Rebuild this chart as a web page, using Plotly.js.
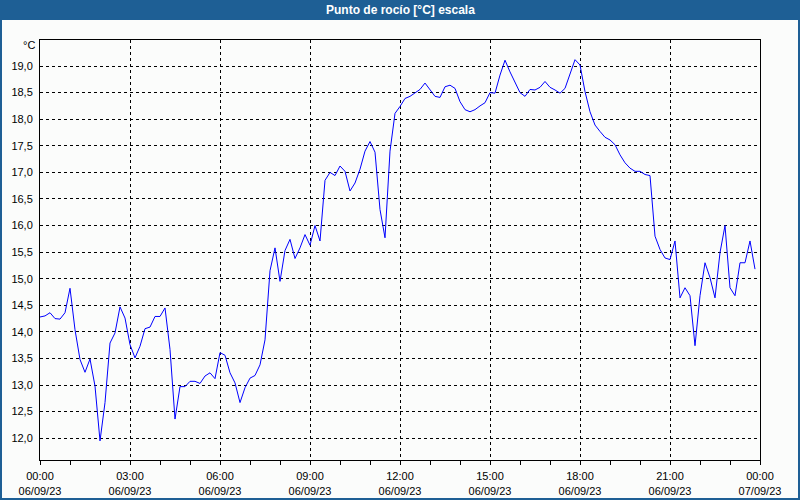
<!DOCTYPE html>
<html>
<head>
<meta charset="utf-8">
<script src="https://cdn.plot.ly/plotly-3.0.1.min.js"></script>
<style>
html,body{margin:0;padding:0;background:#fbfcfb;}
#chart{width:800px;height:500px;}
</style>
</head>
<body>
<div id="chart"></div>
<script>
// Sampling: one reading every 10 minutes starting at midnight
const startTime = '2023-09-06T00:00:00';
const stepMinutes = 10;

// Dew point readings (°C), one row per hour (6 readings each)
const dewPoint = [
  14.28, 14.30, 14.36, 14.25, 14.24, 14.36,   // 00h
  14.82, 14.04, 13.48, 13.24, 13.49, 12.98,   // 01h
  11.95, 12.67, 13.79, 13.98, 14.47, 14.26,   // 02h
  13.76, 13.51, 13.73, 14.06, 14.09, 14.29,   // 03h
  14.29, 14.45, 13.67, 12.36, 12.97, 12.97,   // 04h
  13.07, 13.07, 13.03, 13.17, 13.23, 13.12,   // 05h
  13.61, 13.56, 13.23, 13.04, 12.67, 12.95,   // 06h
  13.13, 13.18, 13.38, 13.85, 15.15, 15.58,   // 07h
  14.95, 15.53, 15.74, 15.38, 15.58, 15.83,   // 08h
  15.63, 16.00, 15.71, 16.85, 17.00, 16.94,   // 09h
  17.12, 17.02, 16.65, 16.80, 17.06, 17.40,   // 10h
  17.58, 17.38, 16.30, 15.77, 17.40, 18.11,   // 11h
  18.24, 18.39, 18.43, 18.50, 18.56, 18.68,   // 12h
  18.56, 18.43, 18.41, 18.61, 18.64, 18.58,   // 13h
  18.33, 18.18, 18.14, 18.18, 18.25, 18.31,   // 14h
  18.50, 18.49, 18.83, 19.11, 18.89, 18.71,   // 15h
  18.50, 18.43, 18.56, 18.55, 18.60, 18.71,   // 16h
  18.60, 18.55, 18.49, 18.58, 18.86, 19.12,   // 17h
  19.02, 18.52, 18.14, 17.89, 17.77, 17.66,   // 18h
  17.61, 17.52, 17.33, 17.18, 17.08, 17.02,   // 19h
  17.02, 16.96, 16.94, 15.80, 15.55, 15.39,   // 20h
  15.36, 15.71, 14.64, 14.83, 14.68, 13.74,   // 21h
  14.68, 15.30, 15.02, 14.64, 15.49, 16.00,   // 22h
  14.83, 14.68, 15.30, 15.30, 15.71, 15.18    // 23h
];

const chartTitle = 'Punto de rocío [°C] escala';
const unitLabel = '°C';
const xRange = ['2023-09-06 00:00', '2023-09-07 00:00'];
const yRange = [11.59, 19.49];

// timestamps for each reading
const pad = n => String(n).padStart(2, '0');
const t0 = new Date(startTime);
const times = dewPoint.map((_, i) => {
  const d = new Date(t0.getTime() + i * stepMinutes * 60000);
  return d.getFullYear() + '-' + pad(d.getMonth() + 1) + '-' + pad(d.getDate()) + ' ' +
         pad(d.getHours()) + ':' + pad(d.getMinutes());
});

// pixel helpers for paper coordinates (plot area 40..760 x 40..460)
const L = 40, T = 40, W = 720, H = 420;
const px = p => (p - L) / W;
const py = p => (T + H - p) / H;

const tickFont = {family: 'Liberation Sans, Arial, sans-serif', size: 11, color: '#000000'};

const trace = {
  x: times, y: dewPoint, type: 'scatter', mode: 'lines',
  line: {color: '#0000ff', width: 1}, hoverinfo: 'x+y'
};

const layout = {
  width: 800, height: 500,
  margin: {l: L, r: 800 - L - W, t: T, b: 500 - T - H, pad: 0},
  paper_bgcolor: '#fbfcfb', plot_bgcolor: '#fbfcfb',
  separators: ',.',
  showlegend: false,
  xaxis: {
    type: 'date', range: xRange,
    dtick: 3 * 3600000, tick0: '2023-09-06 00:00',
    tickformat: '%H:%M<br>%d/%m/%y',
    tickfont: tickFont, ticklabelstandoff: 2,
    ticks: 'outside', ticklen: 4, tickcolor: '#000', tickwidth: 1,
    minor: {dtick: 3600000, ticks: 'outside', ticklen: 4, tickcolor: '#000', showgrid: false},
    showgrid: true, gridcolor: '#000000', gridwidth: 1, griddash: '3px,3px',
    showline: true, linecolor: '#000', linewidth: 1, mirror: true,
    zeroline: false, fixedrange: true
  },
  yaxis: {
    range: yRange, dtick: 0.5, tick0: 12, tickformat: '.1f',
    tickfont: tickFont, ticks: '', ticklabelstandoff: 4,
    showgrid: true, gridcolor: '#000000', gridwidth: 1, griddash: '3px,3px',
    showline: true, linecolor: '#000', linewidth: 1, mirror: true,
    zeroline: false, fixedrange: true
  },
  shapes: [
    {type: 'rect', xref: 'paper', yref: 'paper', x0: px(0), x1: px(800), y0: py(20), y1: py(0),
     fillcolor: '#1e5f95', line: {width: 0}, layer: 'above'},
    {type: 'rect', xref: 'paper', yref: 'paper', x0: px(1), x1: px(799), y0: py(499), y1: py(1),
     fillcolor: 'rgba(0,0,0,0)', line: {color: '#1e5f95', width: 2}, layer: 'above'}
  ],
  annotations: [
    {text: '<b>' + chartTitle + '</b>', xref: 'paper', yref: 'paper', x: px(400), y: py(10),
     xanchor: 'center', yanchor: 'middle', showarrow: false,
     font: {family: 'Liberation Sans, Arial, sans-serif', size: 12, color: '#ffffff'}},
    {text: unitLabel, xref: 'paper', yref: 'paper', x: px(37), y: py(45),
     xanchor: 'right', yanchor: 'middle', showarrow: false, font: tickFont}
  ]
};

Plotly.newPlot('chart', [trace], layout, {displayModeBar: false, staticPlot: true});
</script>
</body>
</html>
